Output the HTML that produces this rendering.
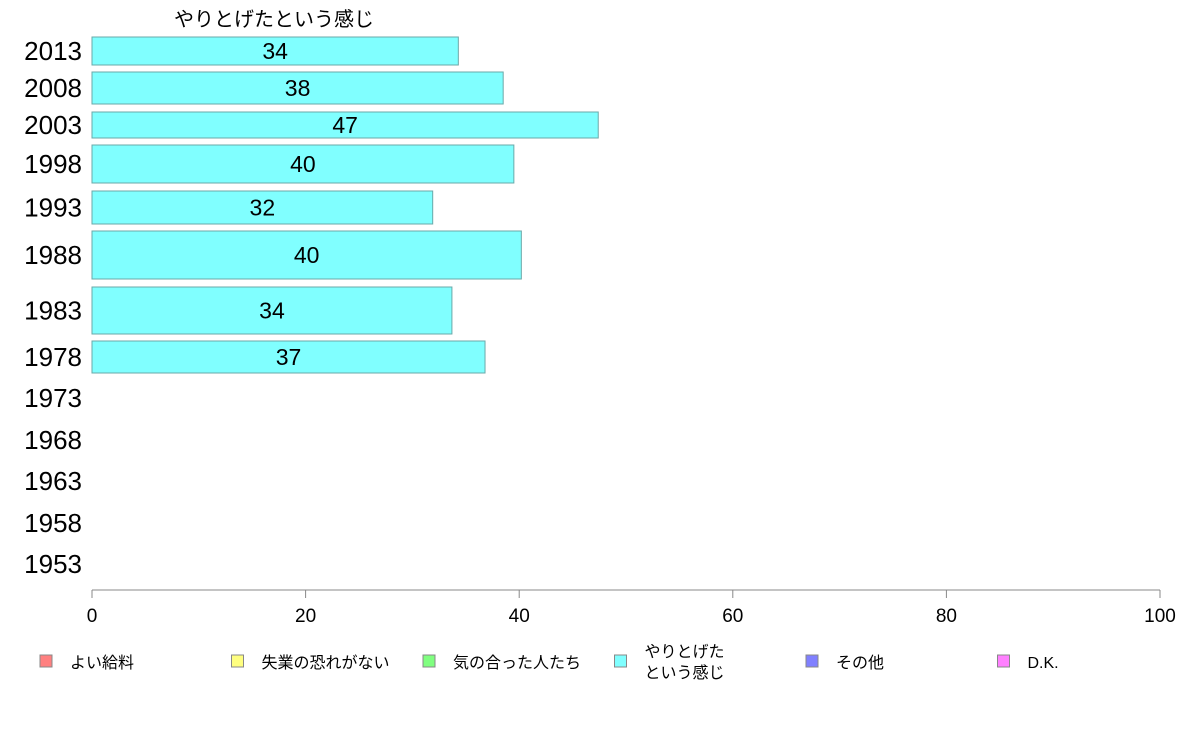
<!DOCTYPE html>
<html><head><meta charset="utf-8">
<style>
body{margin:0;background:#fff;width:1188px;height:736px;overflow:hidden;font-family:"Liberation Sans","Noto Sans CJK JP",sans-serif;}
</style></head>
<body>
<svg id="chart" width="1188" height="736" xmlns="http://www.w3.org/2000/svg" font-family="Liberation Sans, Noto Sans CJK JP, sans-serif">
<text x="274" y="26" font-size="20" text-anchor="middle">やりとげたという感じ</text>
<g id="bars"></g>
<g id="axis"></g>
<g id="legend"></g>
</svg>
<script>
const years = ["2013","2008","2003","1998","1993","1988","1983","1978","1973","1968","1963","1958","1953"];
const values = [34.3, 38.5, 47.4, 39.5, 31.9, 40.2, 33.7, 36.8, null, null, null, null, null];
const valueLabels = ["34","38","47","40","32","40","34","37","","","","",""];
const xTicks = [0,20,40,60,80,100];
const legendLabels = [["よい給料"],["失業の恐れがない"],["気の合った人たち"],["やりとげた","という感じ"],["その他"],["D.K."]];
const legendColors = ["#ff8080","#ffff80","#80ff80","#80ffff","#8080ff","#ff80ff"];

// layout (row bands, pixels) — not data
const rowTop = [37,72,112,145,191,231,287,341,383,425,466,508,549];
const rowH   = [28,32,26,38,33,48,47,32,30,30,30,30,30];
const X0=92, X1=1160;
const x = v => X0 + (v/100)*(X1-X0);
const NS="http://www.w3.org/2000/svg";
function mk(tag, attrs, parent){const e=document.createElementNS(NS,tag);for(const k in attrs)e.setAttribute(k,attrs[k]);parent.appendChild(e);return e;}

const bars=document.getElementById('bars');
years.forEach((yr,i)=>{
  const cy=rowTop[i]+rowH[i]/2;
  const t=mk('text',{x:82,y:cy+9,'font-size':26,'text-anchor':'end'},bars);
  
  
  t.textContent=yr;
  if(values[i]!=null){
    const r=mk('rect',{x:X0,y:rowTop[i],width:x(values[i])-X0,height:rowH[i],fill:'#80ffff',stroke:'#6aa8a8','stroke-width':1},bars);
    
    
    const l=mk('text',{x:(X0+x(values[i]))/2,y:cy+8,'font-size':23,'text-anchor':'middle'},bars);
    
    
    l.textContent=valueLabels[i];
  }
});

const axis=document.getElementById('axis');
const al=mk('line',{x1:X0,y1:590,x2:X1,y2:590,stroke:'#888','stroke-width':1},axis);


xTicks.forEach(v=>{
  const tk=mk('line',{x1:x(v),y1:590,x2:x(v),y2:598,stroke:'#888'},axis);
  
  
  const tl=mk('text',{x:x(v),y:622,'font-size':19,'text-anchor':'middle'},axis);
  
  
  tl.textContent=v;
});

const legend=document.getElementById('legend');
legendLabels.forEach((lab,i)=>{
  const lx=40+i*191.5;
  const g=mk('g',{},legend);
  
  
  mk('rect',{x:lx,y:655,width:12,height:12,fill:legendColors[i],stroke:'#888'},g);
  if(lab.length===1){
    const t=mk('text',{x:lx+30,y:668,'font-size':16},g);t.textContent=lab[0];
  } else {
    const t1=mk('text',{x:lx+30,y:657,'font-size':16},g);t1.textContent=lab[0];
    const t2=mk('text',{x:lx+30,y:678,'font-size':16},g);t2.textContent=lab[1];
  }
});
</script>
</body></html>
